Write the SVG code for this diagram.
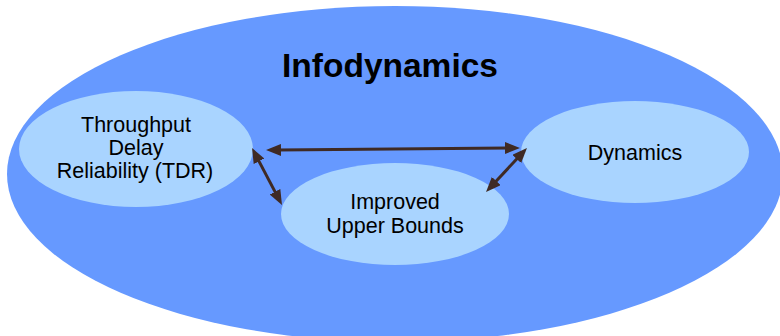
<svg xmlns="http://www.w3.org/2000/svg" width="780" height="336" viewBox="0 0 780 336">
  <style>
    .outer { fill: #6699FF; }
    .node { fill: #A9D4FF; }
    .title { font-family: "Liberation Sans", Arial, sans-serif; font-size: 33.5px; font-weight: bold; fill: #000; text-anchor: middle; }
    .label { font-family: "Liberation Sans", Arial, sans-serif; font-size: 21.5px; fill: #000; text-anchor: middle; }
    .link { stroke: #3F2A24; stroke-width: 3; fill: none; marker-start: url(#head); marker-end: url(#head); }
  </style>
  <defs>
    <marker id="head" viewBox="0 0 15 12" markerWidth="15" markerHeight="12" refX="3" refY="6" markerUnits="userSpaceOnUse" orient="auto-start-reverse">
      <path d="M0,0 L15,6 L0,12 Z" fill="#3F2A24"/>
    </marker>
  </defs>

  <rect width="780" height="336" fill="#FFFFFF"/>

  <g id="infodynamics">
    <ellipse class="outer" cx="395" cy="174" rx="388" ry="168"/>
    <text class="title" x="390" y="77">Infodynamics</text>
  </g>

  <g id="tdr">
    <ellipse class="node" cx="136" cy="149" rx="117" ry="58"/>
    <text class="label" x="136" y="132">Throughput</text>
    <text class="label" x="136" y="155">Delay</text>
    <text class="label" x="135" y="178">Reliability (TDR)</text>
  </g>

  <g id="dynamics">
    <ellipse class="node" cx="635" cy="152" rx="114" ry="51"/>
    <text class="label" x="635" y="160">Dynamics</text>
  </g>

  <g id="bounds">
    <ellipse class="node" cx="395" cy="214" rx="114" ry="51"/>
    <text class="label" x="395" y="209">Improved</text>
    <text class="label" x="395" y="233">Upper Bounds</text>
  </g>

  <g id="connectors">
    <line class="link" x1="278" y1="150" x2="508" y2="148"/>
    <line class="link" x1="257.6" y1="158.6" x2="276.4" y2="194.4"/>
    <line class="link" x1="518.8" y1="156.8" x2="494.2" y2="183.2"/>
  </g>
</svg>
